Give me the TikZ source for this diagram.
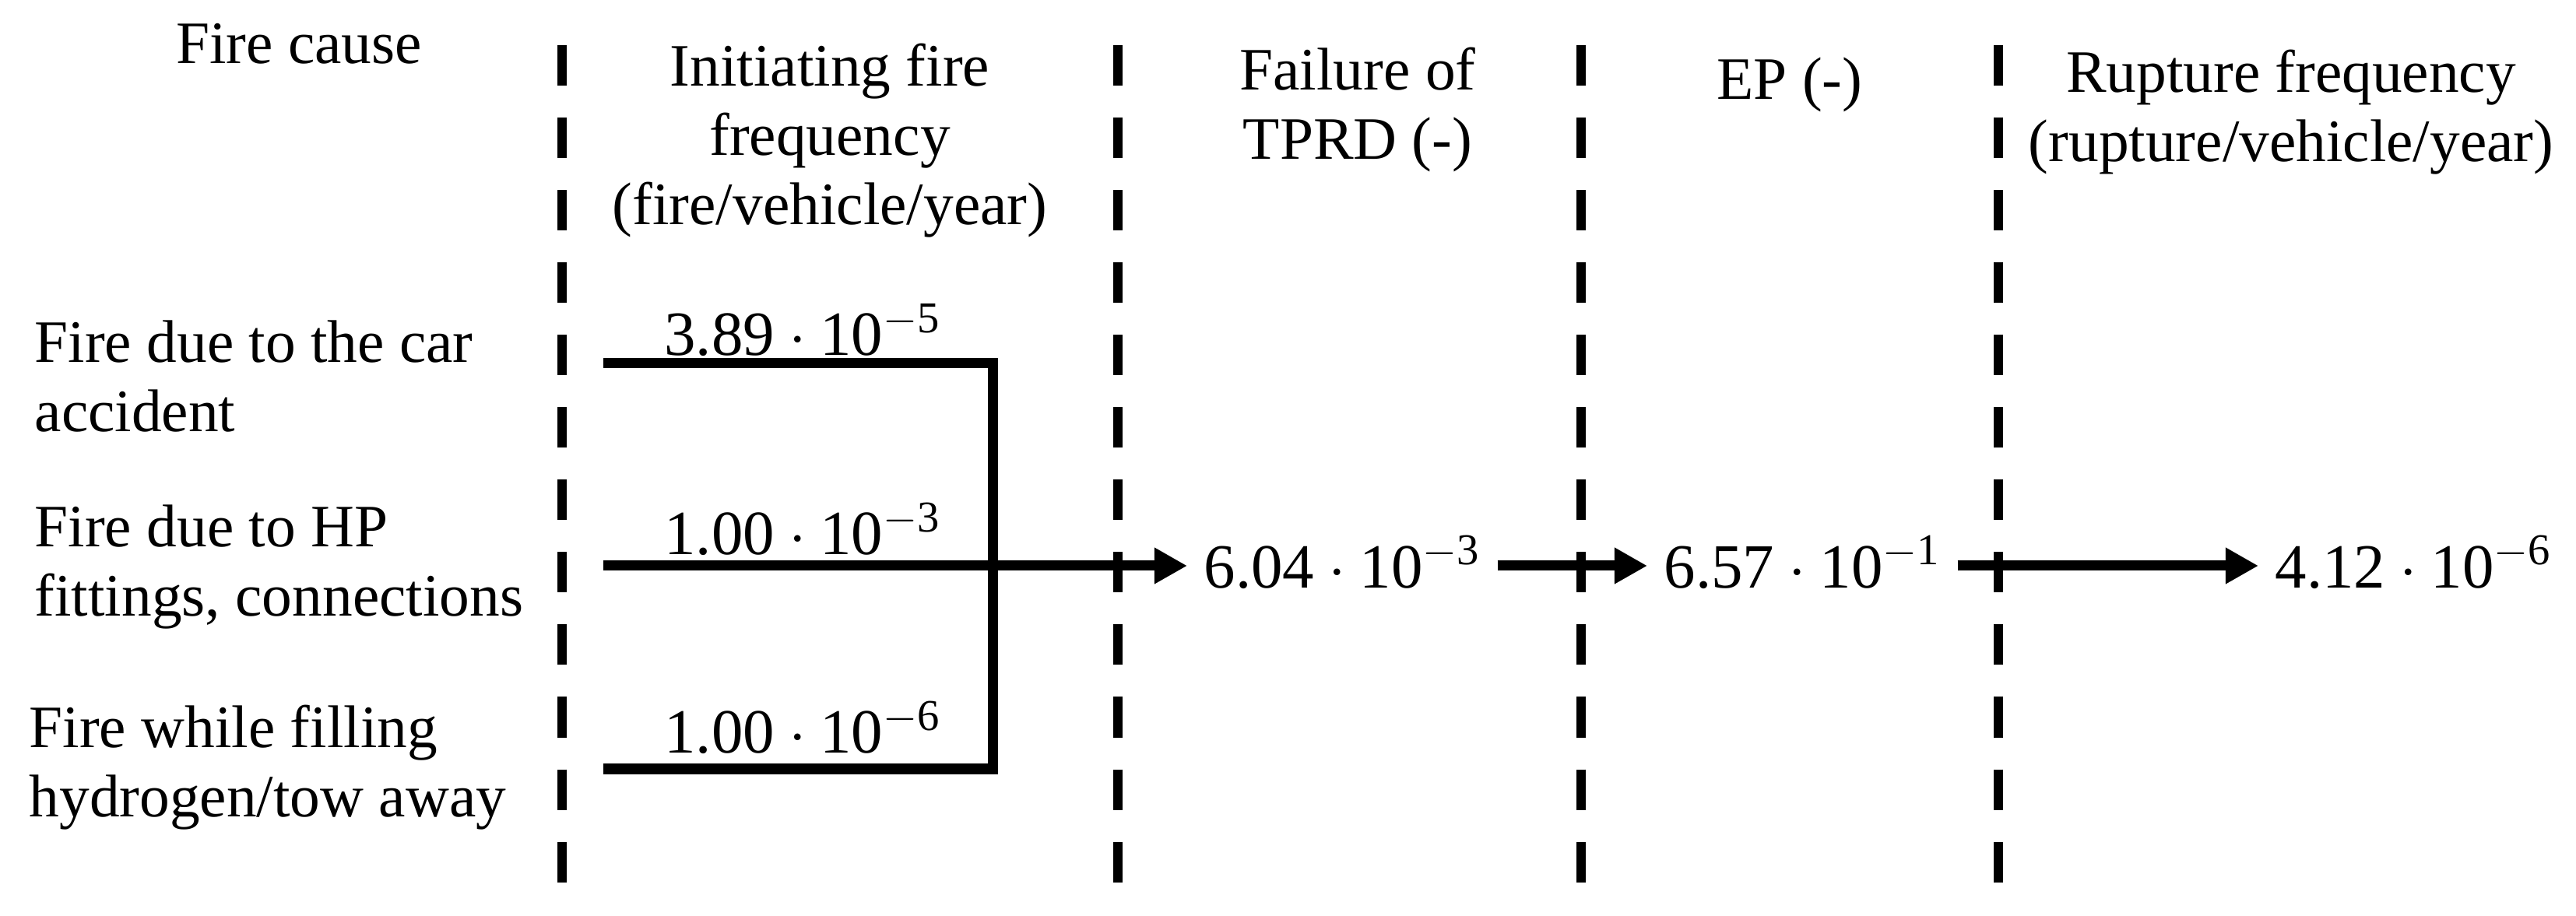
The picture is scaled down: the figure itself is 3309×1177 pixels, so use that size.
\documentclass[tikz,border=0pt]{standalone}
\usepackage{fix-cm}
\usepackage{fontspec}
\setmainfont{Liberation Serif}
\usetikzlibrary{arrows.meta}
\newcommand\sci[2]{#1${}\cdot{}$10\textsuperscript{$-$#2}}
\begin{document}
\begin{tikzpicture}[x=0.01cm,y=-0.01cm,
  every node/.style={inner sep=0pt, font=\fontsize{22}{25.3}\selectfont},
  hdr/.style={anchor=north, align=center},
  cause/.style={anchor=north west, align=left},
  val/.style={anchor=base, font=\fontsize{23}{27}\selectfont},
  res/.style={anchor=west, inner xsep=6pt, text height=18pt, text depth=2pt, font=\fontsize{23}{27}\selectfont},
  sep/.style={line width=3.2pt, dash pattern=on 0.52cm off 0.41cm},
  flow/.style={line width=3.7pt},
  arr/.style={flow, -{Triangle[length=12pt,width=12.5pt]}}
]
\useasboundingbox (0,0) rectangle (3309,1177);

% column separators
\draw[sep] (722,58) -- (722,1134);
\draw[sep] (1436,58) -- (1436,1134);
\draw[sep] (2031,58) -- (2031,1134);
\draw[sep] (2567,58) -- (2567,1134);

% headers
\node[anchor=base] (hcause) at (384,82) {Fire cause};
\node[hdr] (hinit) at (1066,48) {\strut Initiating fire\\frequency\\(fire/vehicle/year)};
\node[hdr] (htprd) at (1744,53) {\strut Failure of\\TPRD (-)};
\node[anchor=base] (hep) at (2299,128) {EP (-)};
\node[hdr] (hrup) at (2943,56) {\strut Rupture frequency\\(rupture/vehicle/year)};

% causes
\node[cause] (c1) at (44,403) {\strut Fire due to the car\\accident};
\node[cause] (c2) at (44,640) {\strut Fire due to HP\\fittings, connections};
\node[cause] (c3) at (37,898) {\strut Fire while filling\\hydrogen/tow away};

% flow lines
\coordinate (s1) at (775,467);
\coordinate (s2) at (775,727);
\coordinate (s3) at (775,988);
\coordinate (j1) at (1275,467);
\coordinate (j3) at (1275,988);
\draw[flow, line join=miter] (s1) -- (j1) -- (j3) -- (s3);

\node[val] (v1) at (1031,457) {\sci{3.89}{5}};
\node[val] (v2) at (1031,713) {\sci{1.00}{3}};
\node[val] (v3) at (1031,968) {\sci{1.00}{6}};

\node[res] (r1) at (1525,727) {\sci{6.04}{3}};
\node[res] (r2) at (2116,727) {\sci{6.57}{1}};
\node[res] (r3) at (2901,727) {\sci{4.12}{6}};

\draw[arr] (s2) -- (r1.west);
\draw[arr] (r1.east) -- (r2.west);
\draw[arr] (r2.east) -- (r3.west);
\end{tikzpicture}
\end{document}
